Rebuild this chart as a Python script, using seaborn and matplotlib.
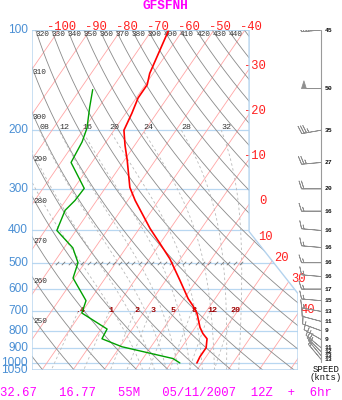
import numpy as np
import matplotlib
matplotlib.use("Agg")
import matplotlib.pyplot as plt
import seaborn as sns
from matplotlib.patches import Polygon
from matplotlib.transforms import offset_copy

# sounding (hPa, degC)
temp_p = [100, 135, 146, 160, 178, 200, 222, 246, 297, 325, 395, 438, 487, 566,
          641, 673, 711, 782, 816, 846, 900, 958, 1000]
temp_c = [-64.6, -61.1, -59.4, -59.4, -58.0, -56.8, -53.1, -49.1, -42.2, -37.6,
          -26.5, -20.0, -13.4, -5.3, 1.3, 4.4, 7.5, 11.5, 13.8, 16.3, 18.0, 18.0, 18.4]
dewp_p = [151, 171, 197, 217, 250, 299, 325, 348, 400, 451, 500, 556, 650, 708,
          791, 846, 894, 970, 1000]
dewp_c = [-75.9, -72.9, -69.2, -67.7, -66.7, -56.7, -57.0, -58.0, -56.2, -47.2,
          -42.2, -40.4, -31.2, -29.8, -18.1, -17.6, -9.4, 9.7, 12.9]

# winds (knots)
wind_p = [100, 150, 200, 250, 300, 350, 400, 450, 500, 550, 600, 650, 700, 750,
          800, 850, 900, 925, 950, 975]
wind_spd = [45, 50, 35, 27, 20, 16, 16, 16, 16, 16, 17, 15, 13, 11, 9, 9, 11, 12, 13, 13]
wind_dir = [265, 270, 260, 265, 270, 270, 275, 275, 270, 275, 270, 275, 280, 285,
            290, 300, 310, 315, 320, 320]

# background line sets and their labels
press_ticks = [100, 200, 300, 400, 500, 600, 700, 800, 900, 1000, 1050]
iso_top = [-100, -90, -80, -70, -60, -50, -40]
iso_right = [-30, -20, -10, 0, 10, 20, 30, 40]
theta_top = [320, 330, 340, 350, 360, 370, 380, 390, 400, 410, 420, 430, 440]
theta_left = [250, 260, 270, 280, 290, 300, 310]
thetaw = [8, 12, 16, 20, 24, 28, 32]
mixr = [0.4, 1, 2, 3, 5, 8, 12, 20]
mixr_labels = [".4", "1", "2", "3", "5", "8", "12", "20"]
footer = "32.67   16.77   55M   05/11/2007  12Z  +  6hr"

SKEW = 32.1
P_BOT, P_TOP = 1050.0, 100.0
X_L, X_RT, X_RB = -33.23, 36.8, 52.58
P_K1, P_K2 = 403.0, 619.0

MONO = "Liberation Mono"
RED_LBL = "#ff2020"
BLUE_LBL = "#4a8fd4"
MAGENTA = "#ff00ff"


def skx(t, p):
    return np.asarray(t) + SKEW * np.log(P_BOT / np.asarray(p))


def dry_t(theta, p):
    return theta * (np.asarray(p) / 1000.0) ** 0.286 - 273.15


def moist_t(tw, p_end, n=300):
    Rd, Cp, Lv, eps = 287.04, 1005.7, 2.501e6, 0.622

    def dtdp(T, p):
        es = 6.112 * np.exp(17.67 * (T - 273.15) / (T - 29.65))
        rs = eps * es / (p - es)
        return (Rd * T + Lv * rs) / (Cp + Lv * Lv * rs * eps / (Rd * T * T)) / p

    ps = np.linspace(1000.0, p_end, n)
    ts = [tw + 273.15]
    for p0, p1 in zip(ps[:-1], ps[1:]):
        T = ts[-1]
        k1 = dtdp(T, p0)
        k2 = dtdp(T + k1 * (p1 - p0), p1)
        ts.append(T + 0.5 * (k1 + k2) * (p1 - p0))
    return ps, np.array(ts) - 273.15


def mixr_td(w, p):
    e = w * np.asarray(p) / (622.0 + w)
    a = np.log(e / 6.112)
    return 243.5 * a / (17.67 - a)


def edge_hit(t):
    p = P_BOT * np.exp(-(X_RT - t) / SKEW)
    if p <= P_K1:
        return X_RT, p
    dl = np.log(P_K2 / P_K1)
    s = (t + SKEW * np.log(P_BOT / P_K1) - X_RT) / (X_RB - X_RT + SKEW * dl)
    if s <= 1:
        return X_RT + s * (X_RB - X_RT), P_K1 * np.exp(s * dl)
    return X_RB, P_BOT * np.exp(-(X_RB - t) / SKEW)


sns.set_style("white")
fig = plt.figure(figsize=(3.42, 4.0), dpi=100)
ax = fig.add_axes([32 / 342, 30 / 400, 266 / 342, 340 / 400])
ax.set_yscale("log")
ax.set_xlim(X_L, X_RB)
ax.set_ylim(P_BOT, P_TOP)
ax.axis("off")

frame = Polygon([(X_L, P_BOT), (X_L, P_TOP), (X_RT, P_TOP), (X_RT, P_K1),
                 (X_RB, P_K2), (X_RB, P_BOT)], closed=True, facecolor="none",
                edgecolor="#b4d3ee", lw=1.0, zorder=6)
ax.add_patch(frame)


def clipped(line_list):
    for ln in line_list:
        ln.set_clip_path(frame)


pgrid = np.geomspace(P_TOP, P_BOT, 200)

# isobars
for p in press_ticks:
    clipped(ax.plot([X_L, X_RB], [p, p], color="#b8d7f1", lw=0.9, zorder=1))
    ax.text(X_L, p, str(p), color=BLUE_LBL, fontsize=8.6, family="Liberation Sans",
            ha="right", va="center",
            transform=offset_copy(ax.transData, fig=fig, x=-4, y=0, units="dots"))

# isotherms
for t in range(-110, 60, 10):
    clipped(ax.plot(skx(t, pgrid), pgrid, color="#ffa5a5", lw=0.6, zorder=2))

lbl_tr = offset_copy(ax.transData, fig=fig, x=17, y=3, units="dots")
for t in iso_top:
    ax.text(skx(t, P_TOP), P_TOP, str(t), color=RED_LBL, fontsize=8.7, family=MONO,
            ha="right", va="center", transform=lbl_tr, clip_on=False)
for t in iso_right:
    xh, ph = edge_hit(t)
    ax.text(xh, ph, str(t), color=RED_LBL, fontsize=8.7, family=MONO,
            ha="right", va="center", transform=lbl_tr, clip_on=False)

# dry adiabats
for th in range(240, 460, 10):
    clipped(ax.plot(skx(dry_t(th, pgrid), pgrid), pgrid, color="#8a8a8a", lw=0.6, zorder=2))
for th in theta_top:
    ax.text(skx(dry_t(th, P_TOP), P_TOP), P_TOP, str(th), color="#333333", fontsize=5.6,
            family=MONO, ha="left", va="center",
            transform=offset_copy(ax.transData, fig=fig, x=0, y=-5, units="dots"))
for th in theta_left:
    xs = skx(dry_t(th, pgrid), pgrid)
    p_hit = np.interp(X_L, xs, pgrid)
    ax.text(X_L, p_hit, str(th), color="#333333", fontsize=5.6, family=MONO,
            ha="left", va="center",
            transform=offset_copy(ax.transData, fig=fig, x=1, y=-5, units="dots"))

# moist adiabats (dashed)
for tw in [0, 4] + thetaw:
    pu, tu = moist_t(tw, 200.0)
    pd, td = moist_t(tw, 1050.0, n=20)
    pp = np.concatenate([pd[::-1], pu[1:]])
    tt = np.concatenate([td[::-1], tu[1:]])
    clipped(ax.plot(skx(tt, pp), pp, color="#b9b9b9", lw=0.6, ls=(0, (3, 3)), zorder=2))
    if tw in thetaw:
        ax.text(skx(tu[-1], 200.0), 200.0, "%02d" % tw, color="#333333", fontsize=6,
                family=MONO, ha="left", va="center",
                transform=offset_copy(ax.transData, fig=fig, x=0, y=3, units="dots"))

# mixing ratio lines (dashed)
pm = np.linspace(700, 1050, 40)
for w, lab in zip(mixr, mixr_labels):
    clipped(ax.plot(skx(mixr_td(w, pm), pm), pm, color="#bdbdbd", lw=0.6,
                    ls=(0, (3, 3)), zorder=2))
    ax.text(skx(mixr_td(w, 700.0), 700.0), 700.0, lab, color="#a00000", fontsize=6,
            family=MONO, fontweight="bold", ha="center", va="center",
            transform=offset_copy(ax.transData, fig=fig, x=2, y=1, units="dots"))

# 500 hPa tick slashes
slash_x = np.arange(-25.2, 35.0, 2.05)
ax.scatter(slash_x, np.full(len(slash_x), 500.0), marker=[(-1, -1), (1, 1)], s=6,
           color="#777777", linewidths=0.6, zorder=3)

# profiles
sns.lineplot(x=skx(temp_c, temp_p), y=temp_p, sort=False, estimator=None,
             color="#ff0000", lw=1.2, ax=ax, zorder=5)
sns.lineplot(x=skx(dewp_c, dewp_p), y=dewp_p, sort=False, estimator=None,
             color="#00a000", lw=1.0, ax=ax, zorder=5)
ax.set_xlim(X_L, X_RB)
ax.set_ylim(P_BOT, P_TOP)
ax.axis("off")

# wind barbs column
bx = fig.add_axes([270 / 342, 30 / 400, 72 / 342, 340 / 400])
bx.set_yscale("log")
bx.set_xlim(270, 342)
bx.set_ylim(P_BOT, P_TOP)
bx.axis("off")
bx.plot([321, 321], [P_TOP, 995], color="#9a9a9a", lw=0.8)
rad = np.deg2rad(wind_dir)
u = -np.array(wind_spd) * np.sin(rad)
v = -np.array(wind_spd) * np.cos(rad)
bx.barbs(np.full(len(wind_p), 321.0), wind_p, u, v, length=5.3, color="#8f8f8f",
         linewidth=0.55, sizes=dict(emptybarb=0.0, height=0.4))
for p, s in zip(wind_p, wind_spd):
    bx.text(325, p, str(s), fontsize=4.6, family=MONO, fontweight="bold",
            ha="left", va="center", color="#111111")

fig.text(326 / 342, 1 - 370 / 400, "SPEED", fontsize=6.4, family=MONO,
         ha="center", va="center", color="#111111")
fig.text(326 / 342, 1 - 378 / 400, "(knts)", fontsize=6.4, family=MONO,
         ha="center", va="center", color="#111111")

fig.text(165 / 342, 1 - 6 / 400, "GFSFNH", fontsize=9.2, family=MONO,
         fontweight="bold", ha="center", va="center", color=MAGENTA)
fig.text(0, 1 - 393 / 400, footer, fontsize=8.8, family=MONO,
         ha="left", va="center", color=MAGENTA)

fig.savefig("out.png", dpi=100)
